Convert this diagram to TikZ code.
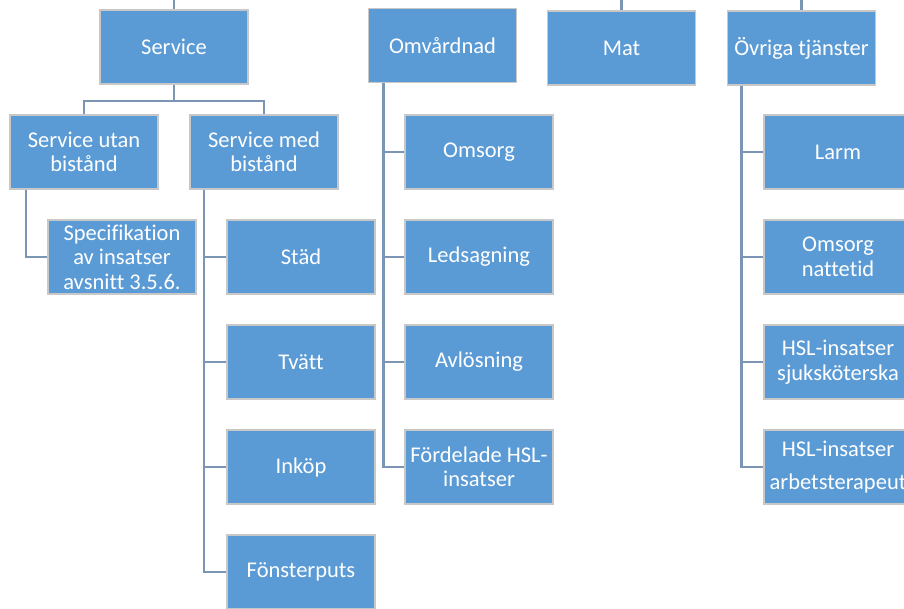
\documentclass[tikz,border=0pt]{standalone}
\usepackage{fontspec}
\setmainfont{Carlito}[Ligatures={NoCommon}]
\usetikzlibrary{calc}
\definecolor{boxblue}{RGB}{91,155,213}
\definecolor{boxrim}{RGB}{200,200,200}
\definecolor{linkgray}{RGB}{124,149,181}
\tikzset{
  unit/.style={rectangle, draw=boxrim, line width=1.8pt, fill=boxblue, text=white, minimum width=148pt, minimum height=74pt, inner sep=0pt, align=center, font=\fontsize{22.5}{24.5}\selectfont},
  link/.style={draw=linkgray, line width=2.6pt}
}

\begin{document}
\begin{tikzpicture}[x=1pt,y=-1pt]
  \useasboundingbox (0,0) rectangle (904,608);
  % top row
  \node[unit] (serv) at (174,47) {Service};
  \node[unit] (omv) at (442.5,45.5) {Omvårdnad};
  \node[unit] (mat) at (621.5,48) {Mat};
  \node[unit] (ovr) at (801.5,48) {Övriga tjänster};
  \coordinate (in1) at (174,0);
  \coordinate (in2) at (621.5,0);
  \coordinate (in3) at (801.5,0);
  % service
  \node[unit] (utan) at (84,152) {Service utan\\bistånd};
  \node[unit] (med) at (264,152) {Service med\\bistånd};
  \node[unit] (spec) at (122,257) {Specifikation\\av insatser\\avsnitt 3.5.6.};
  \node[unit] (stad) at (301,257) {Städ};
  \node[unit] (tvatt) at (301,362) {Tvätt};
  \node[unit] (inkop) at (301,467) {Inköp};
  \node[unit] (fonst) at (301,572) {Fönsterputs};
  % omvardnad
  \node[unit] (omsorg) at (479,152) {Omsorg};
  \node[unit] (leds) at (479,257) {Ledsagning};
  \node[unit] (avl) at (479,362) {Avlösning};
  \node[unit] (hsl) at (479,467) {Fördelade HSL-\\insatser};
  % ovriga
  \node[unit] (larm) at (838,152) {Larm};
  \node[unit] (natt) at (838,257) {Omsorg\\nattetid};
  \node[unit] (sjuk) at (838,362) {HSL-insatser\\sjuksköterska};
  \node[unit] (arb) at (838,467) {HSL-insatser\\[9pt]arbetsterapeut};
  % links
  \draw[link] (in1) -- (serv.north);
  \draw[link] (in2) -- (mat.north);
  \draw[link] (in3) -- (ovr.north);
  \draw[link] (serv.south) -- ++(0,16) -| (utan.north);
  \draw[link] (serv.south) -- ++(0,16) -| (med.north);
  \draw[link] ($(utan.south west)+(17,0)$) |- (spec.west);
  \foreach \k in {stad,tvatt,inkop,fonst}
    \draw[link] ($(med.south west)+(15,0)$) |- (\k.west);
  \foreach \k in {omsorg,leds,avl,hsl}
    \draw[link] ($(omv.south west)+(16,0)$) |- (\k.west);
  \foreach \k in {larm,natt,sjuk,arb}
    \draw[link] ($(ovr.south west)+(15,0)$) |- (\k.west);
\end{tikzpicture}
\end{document}
